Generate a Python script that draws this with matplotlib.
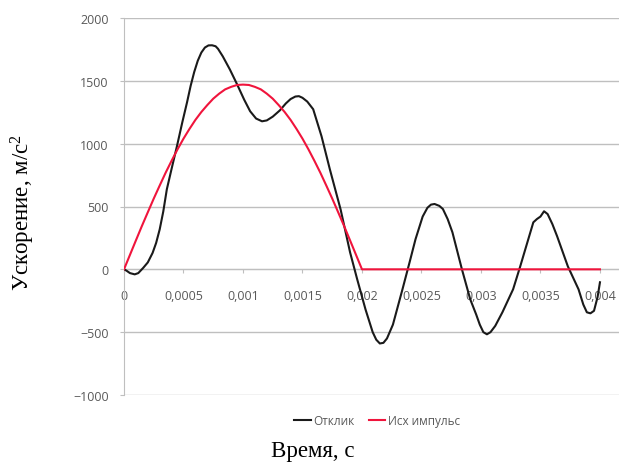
import matplotlib
matplotlib.use('Agg')
import matplotlib.pyplot as plt
from matplotlib.lines import Line2D

# Response (black)
resp_t = [0, 0.00002, 0.00005, 0.00009, 0.00012, 0.00016, 0.0002, 0.00024, 0.00027,
          0.0003, 0.00033, 0.00036, 0.0004, 0.000445, 0.00049, 0.00053, 0.00056,
          0.00059, 0.00062, 0.00065, 0.00068, 0.00071, 0.00074,
          0.00077, 0.00079, 0.00083, 0.00089, 0.00095, 0.00101, 0.00106, 0.00111,
          0.00116, 0.0012, 0.00125, 0.00131, 0.00136, 0.0014, 0.00144, 0.00147,
          0.0015, 0.00154, 0.00159, 0.00166, 0.00173, 0.00182, 0.0019, 0.00196,
          0.00203, 0.00209, 0.00212, 0.00215, 0.00218, 0.00221, 0.00226, 0.00234,
          0.0024, 0.00245, 0.00251, 0.00255, 0.00258, 0.00261, 0.00265, 0.00268,
          0.00272, 0.00276, 0.00284, 0.00291, 0.00296, 0.00299, 0.00302, 0.00305,
          0.00308, 0.00312, 0.00318, 0.00327, 0.00333, 0.00339, 0.00344, 0.00347,
          0.0035, 0.00353, 0.00356, 0.0036, 0.00364, 0.00373, 0.00382, 0.00386,
          0.00389, 0.00392, 0.00395, 0.00398, 0.004]
resp_v = [0, -10, -30, -40, -30, 10, 55, 130, 210,
          318, 460, 637, 800, 980, 1170, 1330, 1460,
          1570, 1660, 1725, 1765, 1782, 1783,
          1775, 1755, 1695, 1590, 1473, 1350, 1258, 1200,
          1178, 1185, 1215, 1265, 1320, 1355, 1375, 1378,
          1365, 1335, 1274, 1059, 796, 478, 135, -80,
          -320, -500, -560, -590, -585, -550, -440, -160,
          56, 240, 420, 490, 515, 520, 505, 480,
          400, 295, 0, -239, -360, -440, -500, -517,
          -500, -450, -342, -159, 24, 215, 374, 400,
          420, 462, 440, 360, 263, 24, -159, -280,
          -342, -350, -330, -220, -103]

# Source pulse (red)
pulse_t = [0, 0.00005, 0.0001, 0.00015, 0.0002, 0.00025, 0.0003, 0.00035, 0.0004,
           0.00045, 0.0005, 0.00055, 0.0006, 0.00065, 0.0007, 0.00075, 0.0008,
           0.00085, 0.0009, 0.00095, 0.001, 0.00105, 0.0011, 0.00115, 0.0012,
           0.00125, 0.0013, 0.00135, 0.0014, 0.00145, 0.0015, 0.00155, 0.0016,
           0.00165, 0.0017, 0.00175, 0.0018, 0.00185, 0.0019, 0.00195, 0.002, 0.004]
pulse_v = [0, 115, 230, 344, 454, 563, 667, 769, 864,
           955, 1040, 1117, 1189, 1252, 1307, 1358, 1398,
           1432, 1452, 1467, 1470, 1467, 1452, 1432, 1398,
           1358, 1307, 1252, 1189, 1117, 1040, 955, 864,
           769, 667, 563, 454, 344, 230, 115, 0, 0]

x_ticks = [0, 0.0005, 0.001, 0.0015, 0.002, 0.0025, 0.003, 0.0035, 0.004]
x_labels = ['0', '0,0005', '0,001', '0,0015', '0,002', '0,0025', '0,003', '0,0035', '0,004']
y_ticks = [-1000, -500, 0, 500, 1000, 1500, 2000]
series_names = ['Отклик', 'Исх импульс']

plt.rcParams['font.family'] = ['Open Sans', 'DejaVu Sans']
plt.rcParams['mathtext.fontset'] = 'custom'
plt.rcParams['mathtext.rm'] = 'Liberation Serif'
plt.rcParams['mathtext.it'] = 'Liberation Serif'

fig = plt.figure(figsize=(6.19, 4.64), dpi=100)
ax = fig.add_axes([124 / 619, 1 - 396 / 464, 1 - 124 / 619, (396 - 19) / 464])

grid_c = '#bfbfbf'
txt_c = '#595959'
black = '#1a1a1a'
red = '#f0143c'

ax.plot(resp_t, resp_v, color=black, lw=1.5, zorder=3)
ax.plot(pulse_t, pulse_v, color=red, lw=1.5, zorder=4)

ax.set_xlim(0, 0.00416)
ax.set_ylim(-1000, 2000)
ax.set_yticks(y_ticks)
ax.set_xticks(x_ticks)
ax.set_xticklabels(x_labels)
ax.yaxis.grid(True, color=grid_c, lw=1)
ax.set_axisbelow(True)

for s in ['top', 'right']:
    ax.spines[s].set_visible(False)
ax.spines['left'].set_color(grid_c)
ax.spines['bottom'].set_position(('data', 0))
ax.spines['bottom'].set_color(grid_c)

ax.tick_params(axis='y', length=3, color=grid_c, labelcolor=txt_c, labelsize=9, pad=8)
ax.tick_params(axis='x', length=3, color=grid_c, labelcolor=txt_c, labelsize=9, pad=11)

handles = [Line2D([], [], color=black, lw=1.5), Line2D([], [], color=red, lw=1.5)]
fig.legend(handles, series_names, loc='center', bbox_to_anchor=(377 / 619, 1 - 422 / 464),
           ncol=2, frameon=False, fontsize=8.5, labelcolor=txt_c, handlelength=1.4,
           handletextpad=0.2, columnspacing=1.2)

fig.text(313 / 619, 1 - 452 / 464, 'Время, с', family='Liberation Serif', fontsize=16.5,
         ha='center', va='center')
fig.text(23 / 619, 1 - 213 / 464, 'Ускорение, м/с$^2$', family='Liberation Serif',
         fontsize=16.5, ha='center', va='center', rotation=90)

fig.savefig('out.png', dpi=100)
